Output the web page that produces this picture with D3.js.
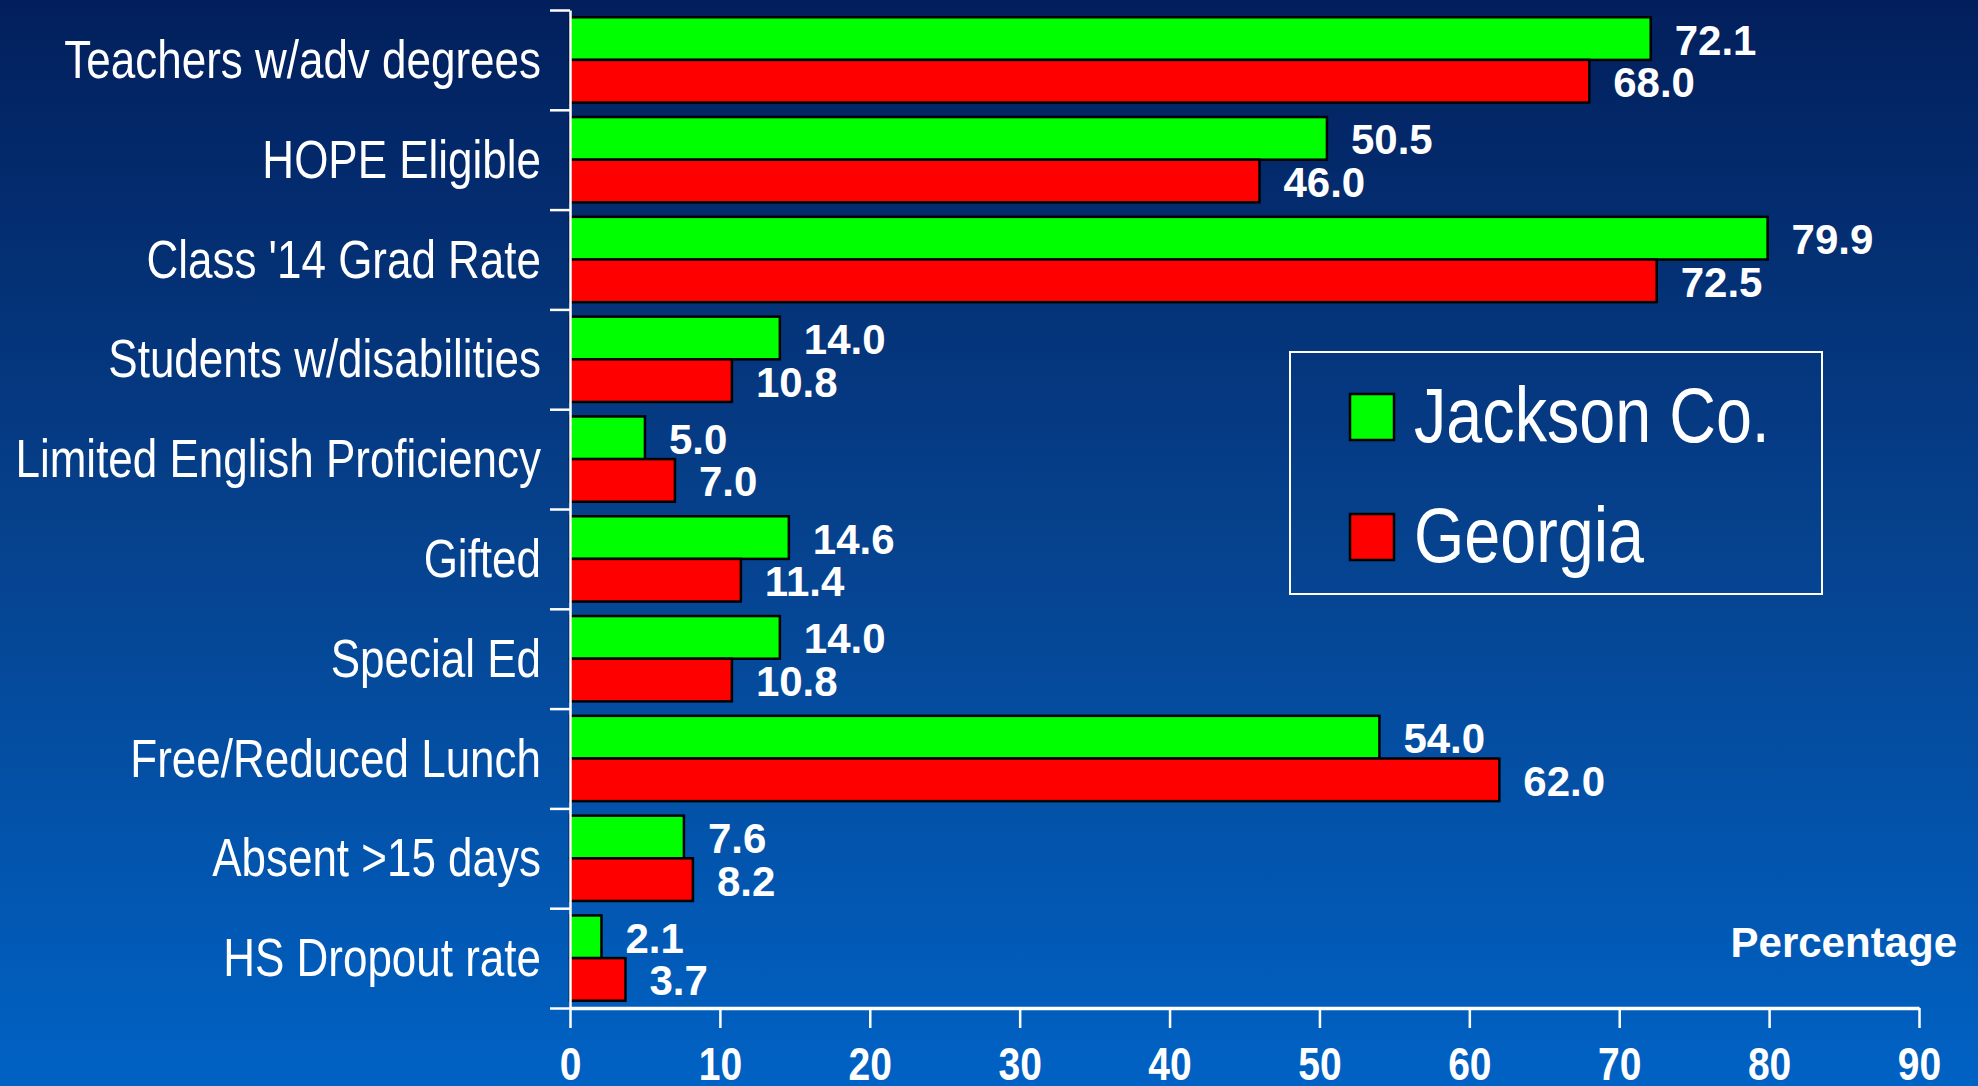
<!DOCTYPE html>
<html>
<head>
<meta charset="utf-8">
<script src="https://cdn.jsdelivr.net/npm/d3@7"></script>
<style>
  html, body { margin: 0; padding: 0; }
  body { width: 1978px; height: 1086px; overflow: hidden; }
  text { font-family: "Liberation Sans", Arial, sans-serif; }
  .bold { font-weight: bold; }
</style>
</head>
<body>
<svg id="chart" width="1978" height="1086"></svg>
<script>
const categories = [
  "Teachers w/adv degrees",
  "HOPE Eligible",
  "Class '14 Grad Rate",
  "Students w/disabilities",
  "Limited English Proficiency",
  "Gifted",
  "Special Ed",
  "Free/Reduced Lunch",
  "Absent >15 days",
  "HS Dropout rate"
];
const seriesNames = ["Jackson Co.", "Georgia"];
const jackson = [72.1, 50.5, 79.9, 14.0, 5.0, 14.6, 14.0, 54.0, 7.6, 2.1];
const georgia = [68.0, 46.0, 72.5, 10.8, 7.0, 11.4, 10.8, 62.0, 8.2, 3.7];
const xTicks = [0, 10, 20, 30, 40, 50, 60, 70, 80, 90];
const colors = ["#00ff00", "#ff0000"];

// no narrow font installed, so condensed text is squeezed horizontally
const narrow = 0.83;

const svg = d3.select("#chart");

// background gradient
const defs = svg.append("defs");
const grad = defs.append("linearGradient").attr("id", "bg").attr("x1", 0).attr("y1", 0).attr("x2", 0).attr("y2", 1);
grad.append("stop").attr("offset", "0%").attr("stop-color", "#021f5c");
grad.append("stop").attr("offset", "50%").attr("stop-color", "#06428e");
grad.append("stop").attr("offset", "100%").attr("stop-color", "#0062c4");
svg.append("rect").attr("width", 1978).attr("height", 1086).attr("fill", "url(#bg)");

const plotLeft = 570, plotRight = 1919, plotTop = 10, plotBottom = 1008;

const x = d3.scaleLinear().domain([0, 90]).range([plotLeft, plotRight]);
const y = d3.scaleBand().domain(categories).range([plotTop, plotBottom]).padding(0);
const y1 = d3.scaleBand().domain(seriesNames).range([0, y.bandwidth()]).paddingInner(0).paddingOuter(0.17);
const yEdge = d3.scaleLinear().domain([0, categories.length]).range([plotTop, plotBottom]);

const rows = categories.map((c, i) => ({
  cat: c,
  vals: [{ s: seriesNames[0], v: jackson[i] }, { s: seriesNames[1], v: georgia[i] }]
}));

// bars
const groups = svg.append("g").selectAll("g").data(rows).join("g")
  .attr("transform", d => `translate(0,${y(d.cat)})`);

groups.selectAll("rect").data(d => d.vals).join("rect")
  .attr("x", x(0))
  .attr("y", d => y1(d.s))
  .attr("width", d => x(d.v) - x(0))
  .attr("height", y1.bandwidth())
  .attr("fill", (d, i) => colors[i])
  .attr("stroke", "#000")
  .attr("stroke-width", 2.5);

groups.selectAll("text").data(d => d.vals).join("text")
  .attr("class", "bold")
  .attr("x", d => x(d.v) + 24)
  .attr("y", d => y1(d.s) + y1.bandwidth() / 2 + 16)
  .attr("font-size", 42)
  .attr("fill", "#fff")
  .text(d => d.v.toFixed(1));

// y axis (ticks at category boundaries)
const yAxis = svg.append("g").attr("transform", `translate(${plotLeft},0)`)
  .call(d3.axisLeft(yEdge).ticks(categories.length).tickFormat("").tickSize(20).tickSizeOuter(0));
yAxis.select(".domain").attr("stroke", "#fff").attr("stroke-width", 2.5);
yAxis.selectAll(".tick line").attr("stroke", "#fff").attr("stroke-width", 2.5);

// category labels
svg.append("g").selectAll("text").data(categories).join("text")
  .attr("transform", d => `translate(541,${y(d) + y.bandwidth() / 2 + 18}) scale(${narrow},1)`)
  .attr("text-anchor", "end")
  .attr("font-size", 53)
  .attr("fill", "#fff")
  .text(d => d);

// x axis
const xAxis = svg.append("g").attr("transform", `translate(0,${plotBottom})`)
  .call(d3.axisBottom(x).tickValues(xTicks).tickSize(20).tickSizeOuter(0));
xAxis.select(".domain").attr("stroke", "#fff").attr("stroke-width", 3.5);
xAxis.selectAll(".tick line").attr("stroke", "#fff").attr("stroke-width", 2.5);
xAxis.selectAll(".tick text")
  .attr("y", 0).attr("dy", 0)
  .attr("transform", `translate(0,72) scale(${narrow},1)`)
  .attr("font-family", "Liberation Sans, Arial, sans-serif")
  .attr("font-size", 47)
  .attr("font-weight", "bold")
  .attr("fill", "#fff");

svg.append("text")
  .attr("class", "bold")
  .attr("x", 1957).attr("y", 957)
  .attr("text-anchor", "end")
  .attr("font-size", 42)
  .attr("fill", "#fff")
  .text("Percentage");

// legend
const legend = svg.append("g");
legend.append("rect")
  .attr("x", 1290).attr("y", 352).attr("width", 532).attr("height", 242)
  .attr("fill", "none").attr("stroke", "#fff").attr("stroke-width", 2);
const items = legend.selectAll("g").data(seriesNames).join("g")
  .attr("transform", (d, i) => `translate(1350,${394 + i * 120})`);
items.append("rect")
  .attr("width", 44).attr("height", 46)
  .attr("fill", (d, i) => colors[i])
  .attr("stroke", "#000").attr("stroke-width", 2.5);
items.append("text")
  .attr("transform", `translate(64,48) scale(0.84,1)`)
  .attr("font-size", 77)
  .attr("fill", "#fff")
  .text(d => d);
</script>
</body>
</html>
